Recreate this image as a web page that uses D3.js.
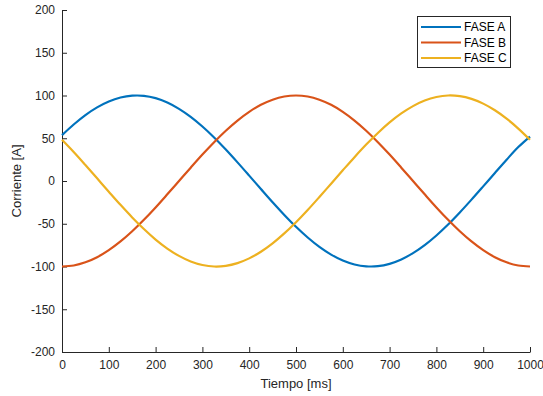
<!DOCTYPE html>
<html>
<head>
<meta charset="utf-8">
<script src="https://cdn.jsdelivr.net/npm/d3@7"></script>
<style>
  html, body { margin: 0; padding: 0; background: #fff; }
  svg { display: block; font-family: "Liberation Sans", Arial, Helvetica, sans-serif; }
</style>
</head>
<body>
<svg id="chart" width="543" height="396"></svg>
<script>
// Time samples in ms
const tiempo = d3.range(0, 1001, 25);

// Current per phase [A]
const faseA = [53.6, 66.1, 77.1, 86.1, 93.0, 97.6, 99.8, 99.6, 96.9, 91.8,
  84.4, 75.0, 63.7, 50.9, 36.8, 21.8, 6.3, -9.4, -24.9, -39.7,
  -53.6, -66.1, -77.1, -86.1, -93.0, -97.6, -99.8, -99.6, -96.9, -91.8,
  -84.4, -75.0, -63.7, -50.9, -36.8, -21.8, -6.3, 9.4, 24.9, 39.7, 52.0];
const faseB = [-100, -98.8, -95.1, -89.1, -80.9, -70.7, -58.8, -45.4, -30.9, -15.6,
  0, 15.6, 30.9, 45.4, 58.8, 70.7, 80.9, 89.1, 95.1, 98.8,
  100, 98.8, 95.1, 89.1, 80.9, 70.7, 58.8, 45.4, 30.9, 15.6,
  0, -15.6, -30.9, -45.4, -58.8, -70.7, -80.9, -89.1, -95.1, -98.8, -100];
const faseC = [48.2, 33.9, 18.7, 3.1, -12.5, -27.9, -42.6, -56.2, -68.5, -79.0,
  -87.6, -94.1, -98.2, -100.0, -99.2, -96.0, -90.5, -82.7, -72.9, -61.3,
  -48.2, -33.9, -18.7, -3.1, 12.5, 27.9, 42.6, 56.2, 68.5, 79.0,
  87.6, 94.1, 98.2, 100.0, 99.2, 96.0, 90.5, 82.7, 72.9, 61.3, 48.2];

const seriesNames = ["FASE A", "FASE B", "FASE C"];
const seriesColors = ["#0072BD", "#D95319", "#EDB120"];
const xTicks = [0, 100, 200, 300, 400, 500, 600, 700, 800, 900, 1000];
const yTicks = [-200, -150, -100, -50, 0, 50, 100, 150, 200];

const svg = d3.select("#chart");
const plotLeft = 62, plotRight = 530, plotTop = 10, plotBottom = 352;
const axisColor = "#262626";

const x = d3.scaleLinear().domain([0, 1000]).range([plotLeft, plotRight]);
const y = d3.scaleLinear().domain([-200, 200]).range([plotBottom, plotTop]);

// Axes with ticks pointing inward, plain integer labels
const xAxis = svg.append("g").attr("transform", `translate(0,${plotBottom})`)
  .call(d3.axisBottom(x).tickValues(xTicks).tickFormat(d => String(d))
    .tickSizeInner(-5).tickSizeOuter(0).tickPadding(8));
const yAxis = svg.append("g").attr("transform", `translate(${plotLeft},0)`)
  .call(d3.axisLeft(y).tickValues(yTicks).tickFormat(d => String(d))
    .tickSizeInner(-5).tickSizeOuter(0).tickPadding(7));

[xAxis, yAxis].forEach(g => {
  g.select(".domain").attr("stroke", axisColor).attr("stroke-width", 1);
  g.selectAll(".tick line").attr("stroke", axisColor);
  g.selectAll(".tick text").attr("fill", axisColor).style("font-size", "12px")
    .style("font-family", "Liberation Sans, Arial, sans-serif");
});

// Axis titles
svg.append("text").attr("x", (plotLeft + plotRight) / 2).attr("y", 388)
  .attr("text-anchor", "middle").attr("fill", axisColor).style("font-size", "13px")
  .text("Tiempo [ms]");
svg.append("text").attr("transform", `translate(21,${(plotTop + plotBottom) / 2}) rotate(-90)`)
  .attr("text-anchor", "middle").attr("fill", axisColor).style("font-size", "13px")
  .text("Corriente [A]");

// Phase curves
const data = [faseA, faseB, faseC];
const line = d3.line()
  .x((d, i) => x(tiempo[i]))
  .y(d => y(d))
  .curve(d3.curveCatmullRom);

svg.append("g").selectAll("path").data(data).join("path")
  .attr("d", d => line(d))
  .attr("fill", "none")
  .attr("stroke", (d, i) => seriesColors[i])
  .attr("stroke-width", 2.2);

// Legend
const legend = svg.append("g");
legend.append("rect").attr("x", 417.5).attr("y", 16.5).attr("width", 93).attr("height", 51)
  .attr("fill", "#fff").attr("stroke", axisColor).attr("stroke-width", 1);
seriesNames.forEach((name, i) => {
  const ly = 27 + i * 15.5;
  legend.append("line").attr("x1", 421).attr("x2", 461).attr("y1", ly).attr("y2", ly)
    .attr("stroke", seriesColors[i]).attr("stroke-width", 2.2);
  legend.append("text").attr("x", 464).attr("y", ly + 4).attr("fill", "#000")
    .style("font-size", "12px").text(name);
});
</script>
</body>
</html>
